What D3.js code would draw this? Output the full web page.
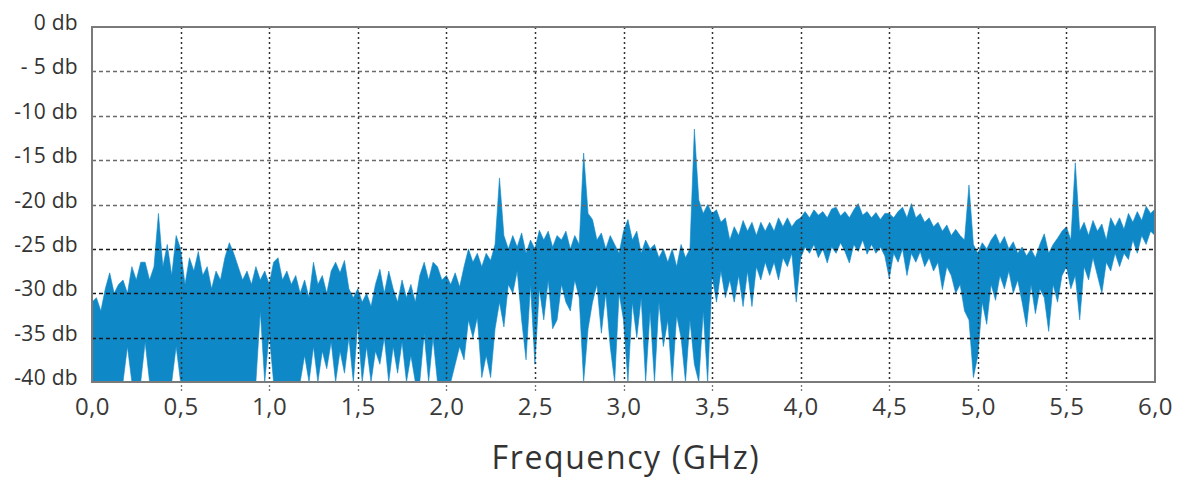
<!DOCTYPE html>
<html>
<head>
<meta charset="utf-8">
<script src="https://cdn.jsdelivr.net/npm/d3@7/dist/d3.min.js"></script>
<style>
  html, body { margin: 0; padding: 0; background: #fff; }
  svg { display: block; }
</style>
</head>
<body>
<svg id="chart" width="1184" height="481"></svg>
<script>
// Spectrum sampled every 25 MHz from 0 to 6 GHz (241 samples).
const STEP_GHZ = 0.025;

// Upper envelope of the measured level, dB
const upperDb = [
  -31, -30.5, -32, -29.5, -27.7, -30, -29, -28.5, -30, -27, -28.5, -26.5, -26.5, -28.5, -27, -21, -27, -24.5, -28, -23.5,
  -25, -29, -26, -27.5, -25.3, -28, -27, -29.5, -27.5, -28.5, -26, -24.3, -25.5, -27, -28.5, -27.5, -29, -27, -28.5, -27.5,
  -29, -26.5, -26, -28.5, -27.5, -29, -28, -30, -28.5, -30.5, -26.5, -29, -28, -30, -27.5, -26.5, -27.7, -26.3, -29.5, -30.5,
  -29.5, -31, -30, -31.5, -29, -27.3, -30, -27.5, -29.5, -31, -28.5, -30.5, -29, -31, -28, -26.5, -28.5, -26.5, -27, -28.5,
  -28, -29, -27.7, -29.3, -27, -25, -26.5, -25.5, -27, -25.5, -26.3, -24.5, -17, -23.5, -25, -23.5, -24.8, -23.2, -25.5, -24,
  -25, -22.9, -24, -23, -24.8, -23.5, -24, -23, -25, -23.5, -24.5, -14.2, -21, -21.7, -24, -23.2, -25, -23.5, -24.5, -25.5,
  -23, -21.7, -24, -23, -25.5, -24, -25, -24.5, -26, -25, -26.5, -25, -27, -24.5, -26, -25, -11.5, -19.5, -21, -20,
  -21, -20.6, -22, -21.5, -24, -22.5, -23.5, -21.8, -23, -22, -23.5, -22, -23, -22, -23, -21.5, -22.5, -21.5, -22.5, -21.8,
  -21.5, -20.8, -21.5, -20.6, -21.2, -20.8, -21.5, -20.5, -20.3, -21.3, -20.8, -21.5, -20.6, -19.9, -21.2, -20.8, -21.5, -20.9, -21.7, -21,
  -21, -21.5, -20.8, -20.3, -21.5, -19.9, -21.5, -21, -22, -21.5, -22.5, -22, -23, -22.3, -23.5, -22.8, -23.5, -24, -17.8, -24.5,
  -25.5, -24.3, -25, -24, -23.3, -24.5, -23.6, -25, -24.2, -25.5, -24.8, -25.8, -25, -26, -24.5, -23.3, -25.5, -24.5, -23.8, -23,
  -22.5, -24, -15.3, -23, -22, -23.5, -21.8, -23, -22.2, -24, -21.5, -22.5, -21.5, -22.8, -21, -22, -20.8, -21.8, -20.2, -21, -20.5
];

// Lower envelope of the measured level, dB (-40 = floor of the scale)
const lowerDb = [
  -40, -40, -40, -40, -40, -40, -40, -40, -36, -40, -40, -40, -35.5, -40, -40, -40, -40, -40, -40, -36,
  -40, -40, -40, -40, -40, -40, -40, -40, -40, -40, -40, -40, -40, -40, -40, -40, -40, -40, -32, -40,
  -34.5, -40, -40, -40, -40, -40, -40, -40, -37, -40, -36, -40, -36.5, -38.5, -35.5, -40, -36.5, -39, -35, -40,
  -33.5, -40, -36, -40, -36.5, -38, -35, -40, -36, -39, -35.5, -40, -37, -40, -40, -34.5, -40, -35, -40, -40,
  -40, -40, -38, -36, -37.5, -33, -35, -32.7, -39.5, -37, -39.5, -34, -31, -33.8, -29, -30, -27.5, -33, -37.5, -29,
  -38, -29.5, -33, -28.5, -34, -33, -29, -31, -32, -28.5, -30.5, -40, -34, -31, -29, -34.5, -30, -36, -40, -30,
  -33, -40, -31, -35, -30.5, -40, -32, -40, -31, -36, -33, -40, -32.5, -35, -40, -33, -38, -40, -32, -40,
  -28, -31, -27.5, -30.5, -28.5, -31, -28, -31.5, -27.5, -31.5, -27, -28.5, -26.5, -28, -26.5, -28.5, -26, -27, -25.5, -31,
  -26, -24.8, -25.5, -24.5, -26, -25, -26.6, -24.8, -25.5, -24.3, -25.3, -26.6, -24.5, -25.3, -24, -25.6, -24.5, -25.5, -24.8, -25.8,
  -28.3, -25.5, -26.5, -25, -28, -25.5, -26.5, -25.3, -27, -26, -27.5, -26.5, -29.6, -27, -28, -30, -29, -32, -33, -39.5,
  -37, -31, -33.5, -29, -30.8, -28, -29.5, -27.5, -30, -28.5, -31, -33.8, -29, -32.3, -29.5, -30.5, -34.3, -29, -31, -28,
  -27, -29.5, -28, -33, -27, -28.5, -26, -28, -30, -26.5, -27.5, -25.5, -27, -25.5, -26.2, -24, -25.5, -23.5, -24.5, -23, -23.5
];

// Axis ticks and their printed labels
const yTicks = [0, -5, -10, -15, -20, -25, -30, -35, -40];
const yTickLabels = ["0 db", "- 5 db", "-10 db", "-15 db", "-20 db", "-25 db", "-30 db", "-35 db", "-40 db"];
const xTicks = [0, 0.5, 1, 1.5, 2, 2.5, 3, 3.5, 4, 4.5, 5, 5.5, 6];
const xTickLabels = ["0,0", "0,5", "1,0", "1,5", "2,0", "2,5", "3,0", "3,5", "4,0", "4,5", "5,0", "5,5", "6,0"];
const xTitle = "Frequency (GHz)";

const FONT = "'Open Sans', 'Noto Sans', sans-serif";
const BLUE = "#0f88c8";

const svg = d3.select("#chart");
const plot = { left: 92, right: 1155, top: 27, bottom: 382 };

const x = d3.scaleLinear().domain([0, 6]).range([plot.left, plot.right]);
const y = d3.scaleLinear().domain([-40, 0]).range([plot.bottom, plot.top]);

svg.append("rect").attr("width", 1184).attr("height", 481).attr("fill", "#fff");

svg.append("clipPath").attr("id", "plot-clip")
  .append("rect")
  .attr("x", plot.left).attr("y", plot.top)
  .attr("width", plot.right - plot.left).attr("height", plot.bottom - plot.top);

// Filled band between the lower and upper envelopes
const band = d3.area()
  .x((d, i) => x(i * STEP_GHZ))
  .y0((d, i) => y(lowerDb[i]))
  .y1(d => y(d));

svg.append("path")
  .datum(upperDb)
  .attr("clip-path", "url(#plot-clip)")
  .attr("d", band)
  .attr("fill", BLUE)
  .attr("stroke", BLUE)
  .attr("stroke-width", 0.6)
  .attr("stroke-linejoin", "miter");

// Horizontal grid (dashed), drawn over the band
const gridY = svg.append("g");
yTicks.filter(v => v < 0 && v > -40).forEach(v => {
  const dark = v <= -25;
  gridY.append("line")
    .attr("x1", plot.left).attr("x2", plot.right)
    .attr("y1", Math.round(y(v)) + 0.5).attr("y2", Math.round(y(v)) + 0.5)
    .attr("stroke", dark ? "#1a1a1a" : "#6a6a6a")
    .attr("stroke-width", dark ? 1.6 : 1.3)
    .attr("stroke-dasharray", "4,3");
});

// Vertical grid (dotted)
const gridX = svg.append("g");
xTicks.filter(v => v > 0 && v < 6).forEach(v => {
  gridX.append("line")
    .attr("x1", Math.round(x(v)) + 0.5).attr("x2", Math.round(x(v)) + 0.5)
    .attr("y1", plot.top).attr("y2", plot.bottom)
    .attr("stroke", "#333")
    .attr("stroke-width", 1.5)
    .attr("stroke-dasharray", "2,3");
  // small tick below the axis
  gridX.append("line")
    .attr("x1", Math.round(x(v)) + 0.5).attr("x2", Math.round(x(v)) + 0.5)
    .attr("y1", plot.bottom + 3).attr("y2", plot.bottom + 10)
    .attr("stroke", "#777")
    .attr("stroke-width", 1.3)
    .attr("stroke-dasharray", "2,2");
});

// Frame
svg.append("rect")
  .attr("x", plot.left).attr("y", plot.top)
  .attr("width", plot.right - plot.left).attr("height", plot.bottom - plot.top)
  .attr("fill", "none")
  .attr("stroke", "#7a7a7a")
  .attr("stroke-width", 2);

// Y axis labels
const yAxis = d3.axisLeft(y)
  .tickValues(yTicks)
  .tickSize(0)
  .tickPadding(14)
  .tickFormat((d, i) => yTickLabels[i]);

const gY = svg.append("g")
  .attr("transform", `translate(${plot.left},0)`)
  .call(yAxis);
gY.select(".domain").remove();
gY.selectAll("text")
  .attr("dy", "0.12em")
  .attr("fill", "#333")
  .style("font-family", FONT)
  .style("font-size", "21px")
  .style("letter-spacing", "0.3px");

// X axis labels
const xAxis = d3.axisBottom(x)
  .tickValues(xTicks)
  .tickSize(0)
  .tickPadding(16)
  .tickFormat((d, i) => xTickLabels[i]);

const gX = svg.append("g")
  .attr("transform", `translate(0,${plot.bottom})`)
  .call(xAxis);
gX.select(".domain").remove();
gX.selectAll("text")
  .attr("fill", "#3a3a3a")
  .style("font-family", FONT)
  .style("font-size", "24px")
  .style("letter-spacing", "0.5px");

// Axis title
svg.append("text")
  .attr("x", 626)
  .attr("y", 469)
  .attr("text-anchor", "middle")
  .attr("fill", "#333")
  .style("font-family", FONT)
  .style("font-size", "32px")
  .style("letter-spacing", "1.6px")
  .text(xTitle);
</script>
</body>
</html>
